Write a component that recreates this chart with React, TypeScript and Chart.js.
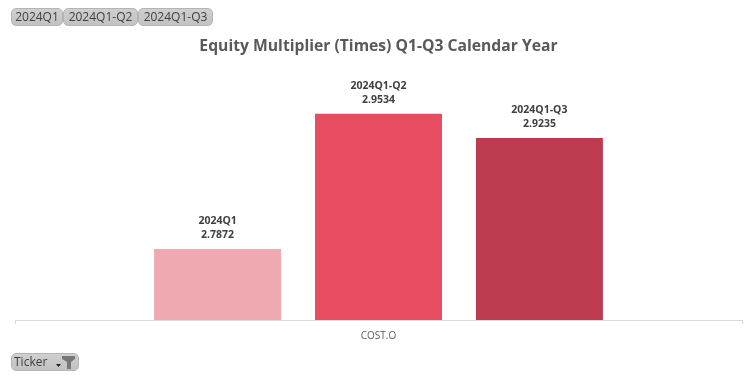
import React, { useEffect, useRef } from "react";
import { Chart, registerables } from "chart.js";

Chart.register(...registerables);

const categories = ["COST.O"];
const periods = ["2024Q1", "2024Q1-Q2", "2024Q1-Q3"];
const values = [2.7872, 2.9534, 2.9235];
const colors = ["#F0A9B1", "#E64D60", "#BC3B4E"];
const titleText = "Equity Multiplier (Times) Q1-Q3 Calendar Year";
const FONT = "'Open Sans', 'Noto Sans', sans-serif";

const barLabels = {
  id: "barLabels",
  afterDatasetsDraw(chart: any) {
    const { ctx } = chart;
    ctx.save();
    ctx.font = `bold 10.5px ${FONT}`;
    ctx.fillStyle = "#404040";
    ctx.textAlign = "center";
    ctx.textBaseline = "middle";
    chart.data.datasets.forEach((ds: any, i: number) => {
      const el = chart.getDatasetMeta(i).data[0];
      ctx.fillText(ds.label, el.x, el.y - 28);
      ctx.fillText(ds.data[0].toFixed(4), el.x, el.y - 14);
    });
    ctx.restore();
  },
};

const chipStyle = (left: number, top: number, width: number, height: number): React.CSSProperties => ({
  position: "absolute",
  left,
  top,
  width,
  height,
  boxSizing: "border-box",
  background: "linear-gradient(#cfcfcf, #c2c2c2)",
  border: "1px solid #b4b4b4",
  borderRadius: 5,
  color: "#404040",
  font: `12px/16px ${FONT}`,
  textAlign: "center",
  whiteSpace: "nowrap",
  overflow: "hidden",
});

export default function App() {
  const ref = useRef<HTMLCanvasElement>(null);
  useEffect(() => {
    document.body.style.margin = "0";
    const chart = new Chart(ref.current!, {
      type: "bar",
      plugins: [barLabels],
      data: {
        labels: categories,
        datasets: periods.map((p, i) => ({
          label: p,
          data: [values[i]],
          backgroundColor: colors[i],
          barPercentage: 0.789,
          categoryPercentage: 0.664,
        })),
      },
      options: {
        responsive: false,
        animation: false,
        layout: { padding: { left: 15, right: 14, top: 0, bottom: 0 } },
        plugins: {
          legend: { display: false },
          tooltip: { enabled: false },
          title: {
            display: true,
            text: titleText,
            color: "#595959",
            font: { family: FONT, size: 15.7, weight: "bold" },
            padding: { top: 37, bottom: 20 },
          },
        },
        scales: {
          x: {
            afterFit: (s: any) => { s.height = 58; },
            grid: { drawOnChartArea: false, drawTicks: true, tickLength: 4, color: "#D9D9D9" },
            border: { color: "#D9D9D9" },
            ticks: { color: "#595959", font: { family: FONT, size: 10 }, padding: 6 },
          },
          y: { display: false, min: 2.7, max: 3.0 },
        },
      },
    } as any);
    return () => chart.destroy();
  }, []);

  return (
    <div style={{ position: "relative", width: 756, height: 378, overflow: "hidden" }}>
      <canvas ref={ref} width={756} height={378} style={{ display: "block" }} />
      <div style={chipStyle(11, 8, 52, 18)}>{periods[0]}</div>
      <div style={chipStyle(63, 8, 75, 18)}>{periods[1]}</div>
      <div style={chipStyle(138, 8, 75, 18)}>{periods[2]}</div>
      <div style={{ ...chipStyle(11, 353, 68, 18), textAlign: "left", paddingLeft: 2 }}>
        Ticker
        <svg width="30" height="16" style={{ position: "absolute", left: 36, top: 0 }}>
          <path d="M8 10h5l-2.5 3z" fill="#222" />
          <path d="M14 2h13v3l-4 3v7h-4V8l-5-3z" fill="#777" />
        </svg>
      </div>
    </div>
  );
}
